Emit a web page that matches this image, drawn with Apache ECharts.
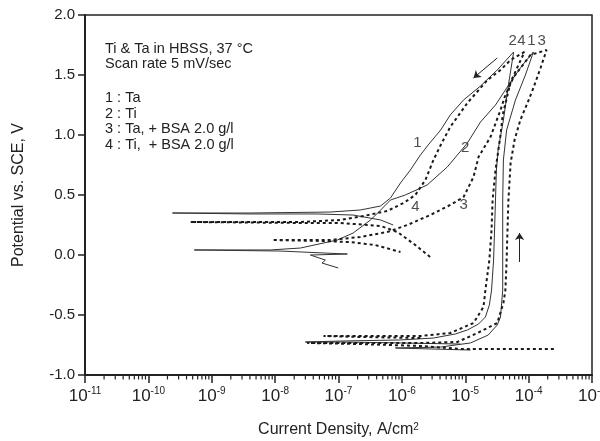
<!DOCTYPE html>
<html>
<head>
<meta charset="utf-8">
<script src="https://cdn.jsdelivr.net/npm/echarts@6/dist/echarts.min.js"></script>
<style>
html,body{margin:0;padding:0;background:#fff;}
#chart{width:600px;height:441px;}
</style>
</head>
<body>
<div id="chart"></div>
<script>
// ---- Data: [current density (A/cm2), potential (V vs SCE)] ----
var curve1 = [ // Ta (solid)
  [8.4e-6,-0.742],[9.5e-7,-0.733],[1.07e-7,-0.725],[3.0e-8,-0.725],[1.07e-7,-0.717],[9.5e-7,-0.708],
  [3.15e-6,-0.692],[7.0e-6,-0.658],[1.08e-5,-0.625],[1.62e-5,-0.575],[2.08e-5,-0.517],[2.4e-5,-0.417],
  [2.6e-5,-0.292],[2.8e-5,-0.042],[2.9e-5,0.208],[3.0e-5,0.458],[3.1e-5,0.708],[3.3e-5,0.875],
  [4.0e-5,1.125],[4.8e-5,1.417],[5.8e-5,1.692],
  [3.2e-5,1.542],[1.74e-5,1.408],[9.4e-6,1.292],[5.8e-6,1.167],[4.1e-6,1.042],[2.6e-6,0.917],
  [1.96e-6,0.833],[1.36e-6,0.708],[9.5e-7,0.6],[6.6e-7,0.475],[4.6e-7,0.408],[2.2e-7,0.375],
  [7.4e-8,0.358],[4.0e-9,0.35],[2.4e-10,0.35],[4.0e-9,0.342],[4.6e-8,0.342],[1.7e-7,0.333],
  [4.6e-7,0.292],[7.3e-7,0.25]
];
var curve2 = [ // Ti (solid)
  [1.21e-5,-0.792],[7.9e-7,-0.775],[4.1e-6,-0.767],[1.21e-5,-0.733],[2.3e-5,-0.667],[3.2e-5,-0.583],
  [3.6e-5,-0.517],[3.9e-5,-0.292],[3.9e-5,0.042],[3.9e-5,0.458],[4.0e-5,0.792],[4.5e-5,1.042],
  [6.2e-5,1.292],[8.9e-5,1.5],[1.19e-4,1.692],
  [8.0e-5,1.583],[5.2e-5,1.442],[3.0e-5,1.25],[1.74e-5,1.108],[1.08e-5,0.933],[5.2e-6,0.733],
  [2.5e-6,0.583],[1.13e-6,0.5],[6.6e-7,0.458],[4.3e-7,0.358],[3.2e-7,0.292],[1.7e-7,0.183],
  [9.6e-8,0.125],[2.5e-8,0.058],[8.4e-9,0.042],[5.3e-10,0.042],[1.2e-8,0.033],[1.38e-7,0.008],
  [3.6e-8,0.0],[6.2e-8,-0.042],[5.5e-8,-0.067],[9.9e-8,-0.108]
];
var curve3 = [ // Ta + BSA 2.0 g/l (dotted)
  [2.5e-4,-0.783],[3.6e-5,-0.783],[8.4e-6,-0.783],[1.96e-6,-0.758],[2.2e-7,-0.742],[3.2e-8,-0.733],
  [2.2e-7,-0.733],[1.96e-6,-0.733],[7.5e-6,-0.725],[1.56e-5,-0.65],[3.2e-5,-0.567],[4.0e-5,-0.4],
  [4.3e-5,-0.292],[4.5e-5,-0.042],[4.6e-5,0.142],[4.8e-5,0.458],[5.2e-5,0.767],[6.0e-5,0.958],
  [7.4e-5,1.125],[9.6e-5,1.267],[1.19e-4,1.392],[1.54e-4,1.558],[1.92e-4,1.708],
  [1.07e-4,1.667],[5.8e-5,1.483],[4.3e-5,1.333],[3.6e-5,1.208],[2.5e-5,0.983],[1.62e-5,0.817],
  [1.35e-5,0.65],[9.4e-6,0.483],[5.8e-6,0.417],[2.8e-6,0.333],[1.22e-6,0.25],[5.9e-7,0.192],
  [2.2e-7,0.15],[7.4e-8,0.125],[9.0e-9,0.125],[5.2e-8,0.117],[1.53e-7,0.108],[3.8e-7,0.083],
  [9.5e-7,0.025]
];
var curve4 = [ // Ti + BSA 2.0 g/l (dotted)
  [1.96e-6,-0.692],[2.2e-7,-0.683],[5.8e-8,-0.675],[4.6e-7,-0.675],[1.96e-6,-0.675],[5.8e-6,-0.65],
  [1.35e-5,-0.567],[1.94e-5,-0.433],[2.08e-5,-0.292],[2.4e-5,-0.042],[2.6e-5,0.208],[2.7e-5,0.458],
  [3.0e-5,0.708],[3.6e-5,1.0],[3.9e-5,1.167],[5.2e-5,1.442],[6.9e-5,1.583],[8.6e-5,1.692],
  [5.2e-5,1.625],[3.6e-5,1.542],[2.24e-5,1.458],[1.08e-5,1.267],[5.8e-6,1.067],[4.1e-6,0.917],
  [3.15e-6,0.792],[2.35e-6,0.625],[1.63e-6,0.5],[1.06e-6,0.433],[5.9e-7,0.367],[2.5e-7,0.325],
  [1.07e-7,0.292],[2.5e-8,0.275],[4.6e-10,0.275],[2.5e-8,0.267],[1.07e-7,0.267],[4.6e-7,0.242],
  [8.5e-7,0.192],[1.63e-6,0.083],[2.8e-6,-0.017]
];
// curve number labels placed in data coordinates
var curveLabels = [
  {name:'1', value:[1.76e-6,0.933]},
  {name:'2', value:[1.0e-5,0.892]},
  {name:'4', value:[1.63e-6,0.40]},
  {name:'3', value:[9.4e-6,0.417]},
  {name:'2', value:[5.6e-5,1.783]},
  {name:'4', value:[7.7e-5,1.783]},
  {name:'1', value:[1.11e-4,1.783]},
  {name:'3', value:[1.6e-4,1.783]}
];
// scan direction arrows
var arrows = [
  [[3.2e-5,1.642],[1.35e-5,1.475]],
  [[7.2e-5,-0.058],[7.2e-5,0.183]]
];
var noteLines = ['Ti & Ta in HBSS, 37 \u00B0C','Scan rate 5 mV/sec','','1 : Ta','2 : Ti','3 : Ta, + BSA 2.0 g/l','4 : Ti,  + BSA 2.0 g/l'];
var xMin = 1e-11, xMax = 1e-3;
var yMin = -1.0, yMax = 2.0, yStep = 0.5;

// minor ticks (2..9 x 10^n)
var minorTicks = [];
for (var n = -11; n < -3; n++) {
  for (var k = 2; k <= 9; k++) minorTicks.push([k * Math.pow(10, n), yMin]);
}

var FONT = 'Liberation Sans, Arial, Helvetica, sans-serif';
var chart = echarts.init(document.getElementById('chart'), null, {renderer:'canvas'});

var noteGraphics = [];
var lineY = [49, 64.5, 80, 98.5, 114, 129.5, 145];
for (var i = 0; i < noteLines.length; i++) {
  if (!noteLines[i]) continue;
  noteGraphics.push({type:'text', left:105, top:lineY[i]-8,
    style:{text:noteLines[i], font:'14.5px ' + FONT, fill:'#222'}});
}

var option = {
  animation:false,
  backgroundColor:'#fff',
  grid:{left:85, right:8, top:15, bottom:66, show:true, borderColor:'#222', borderWidth:1.5,
        containLabel:false, outerBoundsMode:'none'},
  xAxis:{
    type:'log', logBase:10, min:xMin, max:xMax, splitNumber:8,
    name:'Current Density, A/cm{sup|2}', nameLocation:'middle', nameGap:47,
    nameTextStyle:{fontFamily:FONT, fontSize:16, color:'#222',
      rich:{sup:{fontSize:10, verticalAlign:'top', lineHeight:10, fontFamily:FONT, color:'#222'}}},
    axisLine:{show:true, onZero:false, lineStyle:{color:'#222', width:2}},
    axisTick:{show:true, length:8, inside:false, lineStyle:{color:'#222', width:1.5}},
    splitLine:{show:false},
    axisLabel:{margin:11, color:'#222', hideOverlap:false, showMaxLabel:true, showMinLabel:true,
      formatter:function(v){ var e = Math.round(Math.log(v)/Math.LN10); return '{b|10}{s|' + e + '}'; },
      rich:{b:{fontSize:17, fontFamily:FONT, color:'#222', lineHeight:20},
            s:{fontSize:10, fontFamily:FONT, color:'#222', verticalAlign:'top', lineHeight:10}}}
  },
  yAxis:{
    type:'value', min:yMin, max:yMax, interval:yStep,
    name:'Potential vs. SCE, V', nameLocation:'middle', nameGap:58,
    nameTextStyle:{fontFamily:FONT, fontSize:16, color:'#222'},
    axisLine:{show:true, onZero:false, lineStyle:{color:'#222', width:2}},
    axisTick:{show:true, length:7, inside:false, lineStyle:{color:'#222', width:1.5}},
    splitLine:{show:false},
    axisLabel:{margin:10, fontSize:15, fontFamily:FONT, color:'#222',
      formatter:function(v){ return v.toFixed(1); }}
  },
  graphic: noteGraphics,
  series:[
    {type:'line', data:curve1, showSymbol:false, symbol:'none', lineStyle:{color:'#333', width:1}, z:3},
    {type:'line', data:curve2, showSymbol:false, symbol:'none', lineStyle:{color:'#333', width:1}, z:3},
    {type:'line', data:curve3, showSymbol:false, symbol:'none', lineStyle:{color:'#1a1a1a', width:2, type:[3,3]}, z:3},
    {type:'line', data:curve4, showSymbol:false, symbol:'none', lineStyle:{color:'#1a1a1a', width:2, type:[3,3]}, z:3},
    {type:'lines', coordinateSystem:'cartesian2d', symbol:['none','arrow'], symbolSize:7,
      lineStyle:{color:'#222', width:1, opacity:1},
      data:arrows.map(function(a){ return {coords:a}; }), z:4},
    {type:'scatter', data:curveLabels, symbolSize:1, itemStyle:{color:'rgba(0,0,0,0)'},
      label:{show:true, position:'inside', formatter:'{b}', fontSize:15, fontFamily:FONT, color:'#222'}, z:5},
    {type:'custom', data:minorTicks, clip:false, silent:true, encode:{x:0, y:1},
      renderItem:function(params, api){
        var p = api.coord([api.value(0), api.value(1)]);
        return {type:'line', shape:{x1:p[0], y1:p[1], x2:p[0], y2:p[1]+4.5},
          style:{stroke:'#222', lineWidth:1.2}};
      }, z:6}
  ]
};
chart.setOption(option);
</script>
</body>
</html>
